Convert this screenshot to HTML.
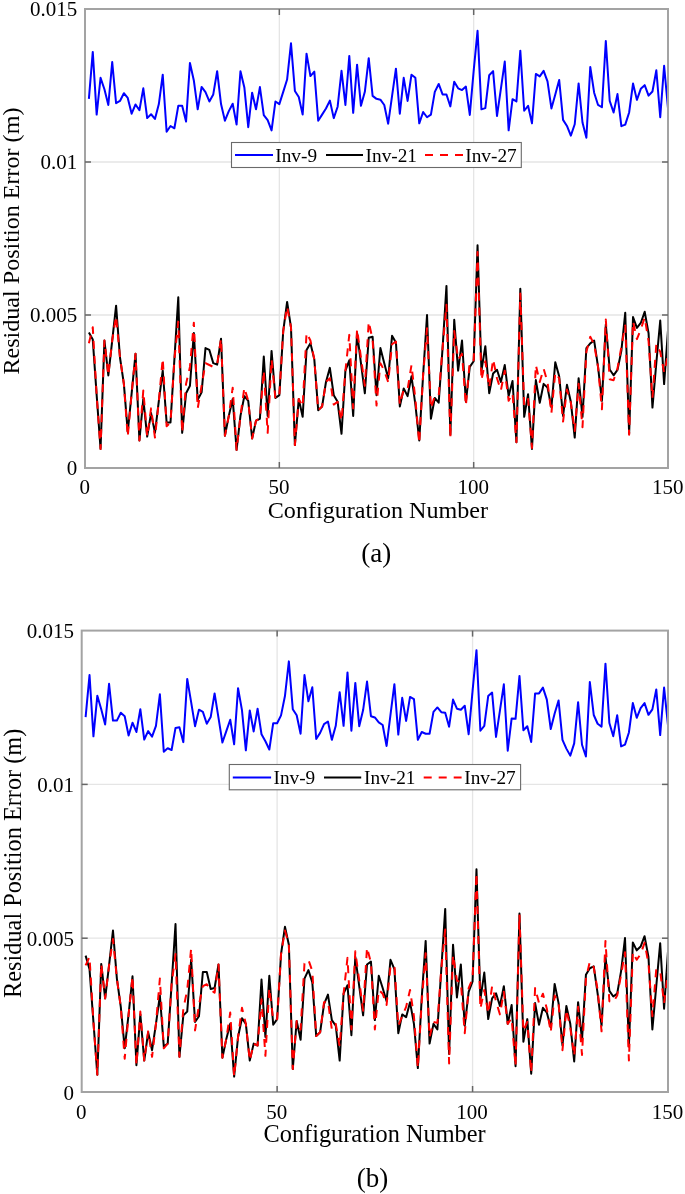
<!DOCTYPE html>
<html><head><meta charset="utf-8"><style>
html,body{margin:0;padding:0;background:#fff;}
svg{display:block;}
</style></head><body>
<svg width="685" height="1194" viewBox="0 0 685 1194">
<defs><filter id="bl" x="0" y="0" width="100%" height="100%"><feGaussianBlur stdDeviation="0.4"/></filter></defs>
<rect width="685" height="1194" fill="#fff"/>
<g filter="url(#bl)">
<line x1="279.33" y1="9.0" x2="279.33" y2="468.0" stroke="#e5e5e5" stroke-width="1.3"/>
<line x1="473.67" y1="9.0" x2="473.67" y2="468.0" stroke="#e5e5e5" stroke-width="1.3"/>
<line x1="85.0" y1="315.00" x2="668.0" y2="315.00" stroke="#e5e5e5" stroke-width="1.3"/>
<line x1="85.0" y1="162.00" x2="668.0" y2="162.00" stroke="#e5e5e5" stroke-width="1.3"/>
<polyline points="88.89,98.84 92.77,51.89 96.66,114.60 100.55,77.81 104.43,89.20 108.32,104.97 112.21,62.05 116.09,103.22 119.98,100.94 123.87,93.23 127.75,97.96 131.64,113.73 135.53,104.44 139.41,110.22 143.30,88.33 147.19,118.11 151.07,114.25 154.96,118.98 158.85,104.09 162.73,74.66 166.62,131.77 170.51,125.99 174.39,128.27 178.28,105.84 182.17,105.84 186.05,121.61 189.94,62.92 193.83,80.44 197.71,109.35 201.60,86.92 205.49,92.18 209.37,101.46 213.26,94.46 217.15,71.16 221.03,104.09 224.92,120.74 228.81,111.10 232.69,103.74 236.58,124.59 240.47,71.16 244.35,87.45 248.24,127.22 252.13,92.70 256.01,109.35 259.90,87.10 263.79,115.13 267.67,120.21 271.56,130.37 275.45,101.46 279.33,104.09 283.22,91.83 287.11,79.57 290.99,43.30 294.88,90.95 298.77,97.08 302.65,114.60 306.54,53.64 310.43,76.06 314.31,71.68 318.20,120.74 322.09,114.60 325.97,108.47 329.86,100.59 333.75,118.11 337.63,106.72 341.52,70.81 345.41,104.97 349.29,55.91 353.18,112.85 357.07,64.67 360.95,105.84 364.84,91.83 368.73,58.19 372.61,95.86 376.50,98.84 380.39,99.71 384.27,104.97 388.16,123.71 392.05,96.21 395.93,68.70 399.82,113.73 403.71,77.81 407.59,100.94 411.48,74.66 415.37,77.81 419.25,123.36 423.14,111.98 427.03,117.23 430.91,114.60 434.80,91.83 438.69,83.95 442.57,94.46 446.46,94.46 450.35,106.37 454.23,81.67 458.12,88.33 462.01,90.08 465.89,86.57 469.78,114.95 473.67,70.81 477.55,30.86 481.44,109.35 485.33,108.12 489.21,75.19 493.10,71.16 496.99,116.01 500.87,88.85 504.76,61.52 508.65,130.37 512.53,99.19 516.42,101.46 520.31,50.66 524.19,110.75 528.08,105.84 531.97,123.36 535.85,73.96 539.74,76.41 543.63,70.81 547.51,81.32 551.40,108.47 555.29,94.46 559.17,79.92 563.06,119.86 566.95,125.99 570.83,135.63 574.72,124.24 578.61,83.42 582.49,122.49 586.38,137.73 590.27,66.95 594.15,92.70 598.04,104.97 601.93,107.25 605.81,41.02 609.70,100.93 613.59,112.50 617.47,94.10 621.36,126.16 625.25,124.58 629.13,112.50 633.02,83.59 636.91,99.88 640.79,88.85 644.68,85.17 648.57,95.68 652.45,91.47 656.34,70.24 660.23,117.23 664.11,65.72 668.00,108.29" fill="none" stroke="#0000ff" stroke-width="2" stroke-linejoin="round"/>
<polyline points="88.89,332.61 92.77,339.58 96.66,395.17 100.55,448.88 104.43,340.53 108.32,375.39 112.21,340.53 116.09,305.67 119.98,357.49 123.87,383.87 127.75,431.92 131.64,393.29 135.53,353.72 139.41,440.40 143.30,398.94 147.19,436.63 151.07,413.08 154.96,432.86 158.85,400.83 162.73,370.68 166.62,422.50 170.51,422.50 174.39,359.37 178.28,297.19 182.17,432.86 186.05,393.29 189.94,385.75 193.83,332.99 197.71,399.89 201.60,392.35 205.49,348.06 209.37,349.95 213.26,363.14 217.15,364.65 221.03,338.64 224.92,435.69 228.81,415.90 232.69,398.94 236.58,449.82 240.47,415.90 244.35,396.12 248.24,400.83 252.13,438.52 256.01,420.61 259.90,418.73 263.79,356.54 267.67,415.90 271.56,350.89 275.45,398.00 279.33,395.17 283.22,331.10 287.11,301.90 290.99,327.34 294.88,445.11 298.77,398.94 302.65,416.85 306.54,349.95 310.43,343.35 314.31,359.37 318.20,410.25 322.09,406.48 325.97,381.98 329.86,367.85 333.75,395.17 337.63,401.77 341.52,433.81 345.41,370.68 349.29,360.31 353.18,415.90 357.07,332.99 360.95,363.14 364.84,393.29 368.73,337.70 372.61,336.76 376.50,395.17 380.39,348.06 384.27,363.14 388.16,378.22 392.05,335.82 395.93,342.41 399.82,406.48 403.71,388.58 407.59,396.12 411.48,376.33 415.37,404.60 419.25,440.40 423.14,374.45 427.03,315.09 430.91,418.73 434.80,398.00 438.69,402.71 442.57,348.06 446.46,285.88 450.35,434.75 454.23,319.80 458.12,370.68 462.01,340.53 465.89,401.77 469.78,366.91 473.67,361.26 477.55,245.36 481.44,370.68 485.33,346.18 489.21,393.29 493.10,373.50 496.99,369.74 500.87,381.98 504.76,365.02 508.65,396.12 512.53,381.04 516.42,442.29 520.31,288.71 524.19,416.85 528.08,394.23 531.97,448.88 535.85,380.10 539.74,402.71 543.63,383.87 547.51,387.64 551.40,407.42 555.29,362.20 559.17,376.33 563.06,415.90 566.95,384.81 570.83,401.77 574.72,437.57 578.61,378.22 582.49,416.85 586.38,348.06 590.27,343.35 594.15,340.53 598.04,366.91 601.93,400.83 605.81,324.45 609.70,369.44 613.59,375.31 617.47,369.93 621.36,350.86 625.25,312.72 629.13,433.81 633.02,317.12 636.91,327.88 640.79,322.99 644.68,311.74 648.57,333.26 652.45,407.59 656.34,362.60 660.23,320.54 664.11,384.12 668.00,330.32" fill="none" stroke="#000" stroke-width="2" stroke-linejoin="round"/>
<polyline points="88.89,343.35 92.77,327.34 96.66,395.17 100.55,448.88 104.43,340.53 108.32,375.39 112.21,340.53 116.09,316.03 119.98,357.49 123.87,383.87 127.75,436.63 131.64,393.29 135.53,353.72 139.41,440.40 143.30,390.46 147.19,436.63 151.07,408.37 154.96,437.57 158.85,400.83 162.73,358.43 166.62,426.27 170.51,422.50 174.39,359.37 178.28,321.68 182.17,432.86 186.05,383.87 189.94,366.91 193.83,322.63 197.71,408.37 201.60,385.75 205.49,363.14 209.37,365.02 213.26,366.91 217.15,364.65 221.03,338.64 224.92,435.69 228.81,415.90 232.69,387.64 236.58,449.82 240.47,415.90 244.35,387.64 248.24,400.83 252.13,438.52 256.01,420.61 259.90,418.73 263.79,370.68 267.67,432.86 271.56,359.37 275.45,398.94 279.33,395.17 283.22,331.10 287.11,306.61 290.99,327.34 294.88,445.11 298.77,398.94 302.65,406.48 306.54,332.99 310.43,340.53 314.31,359.37 318.20,410.25 322.09,406.48 325.97,381.98 329.86,378.22 333.75,404.60 337.63,401.77 341.52,420.61 345.41,370.68 349.29,334.87 353.18,408.37 357.07,329.22 360.95,357.49 364.84,385.75 368.73,321.68 372.61,339.58 376.50,405.54 380.39,363.14 384.27,370.68 388.16,381.98 392.05,344.30 395.93,341.47 399.82,404.60 403.71,389.52 407.59,389.52 411.48,365.02 415.37,398.94 419.25,443.23 423.14,374.45 427.03,328.28 430.91,408.37 434.80,396.12 438.69,396.12 442.57,348.06 446.46,304.72 450.35,437.57 454.23,331.10 458.12,359.37 462.01,353.72 465.89,405.54 469.78,361.26 473.67,360.31 477.55,251.96 481.44,380.10 485.33,361.26 489.21,387.64 493.10,359.37 496.99,378.22 500.87,390.46 504.76,370.68 508.65,400.83 512.53,393.29 516.42,442.29 520.31,293.42 524.19,405.54 528.08,398.94 531.97,447.94 535.85,365.02 539.74,381.98 543.63,368.79 547.51,381.98 551.40,413.08 555.29,372.56 559.17,378.22 563.06,421.56 566.95,389.52 570.83,402.71 574.72,430.98 578.61,383.87 582.49,427.21 586.38,351.83 590.27,336.76 594.15,344.30 598.04,366.91 601.93,409.31 605.81,319.56 609.70,379.23 613.59,380.20 617.47,368.47 621.36,346.95 625.25,325.43 629.13,434.75 633.02,321.52 636.91,339.12 640.79,329.34 644.68,317.61 648.57,341.08 652.45,397.81 656.34,344.01 660.23,351.84 664.11,372.38 668.00,354.77" fill="none" stroke="#ff0000" stroke-width="2" stroke-dasharray="8 7" stroke-linejoin="round"/>
<rect x="85.0" y="9.0" width="583.00" height="459.00" fill="none" stroke="#a3a3a3" stroke-width="2"/>
<line x1="279.33" y1="468.0" x2="279.33" y2="462.0" stroke="#666" stroke-width="1.5"/>
<line x1="279.33" y1="9.0" x2="279.33" y2="15.0" stroke="#666" stroke-width="1.5"/>
<line x1="473.67" y1="468.0" x2="473.67" y2="462.0" stroke="#666" stroke-width="1.5"/>
<line x1="473.67" y1="9.0" x2="473.67" y2="15.0" stroke="#666" stroke-width="1.5"/>
<line x1="85.0" y1="315.00" x2="91.0" y2="315.00" stroke="#666" stroke-width="1.5"/>
<line x1="668.0" y1="315.00" x2="662.0" y2="315.00" stroke="#666" stroke-width="1.5"/>
<line x1="85.0" y1="162.00" x2="91.0" y2="162.00" stroke="#666" stroke-width="1.5"/>
<line x1="668.0" y1="162.00" x2="662.0" y2="162.00" stroke="#666" stroke-width="1.5"/>
<text x="77.2" y="16.30" font-family="Liberation Serif" font-size="21" text-anchor="end">0.015</text>
<text x="77.2" y="169.30" font-family="Liberation Serif" font-size="21" text-anchor="end">0.01</text>
<text x="77.2" y="322.30" font-family="Liberation Serif" font-size="21" text-anchor="end">0.005</text>
<text x="77.2" y="475.30" font-family="Liberation Serif" font-size="21" text-anchor="end">0</text>
<text x="84.70" y="494.3" font-family="Liberation Serif" font-size="21" text-anchor="middle">0</text>
<text x="279.03" y="494.3" font-family="Liberation Serif" font-size="21" text-anchor="middle">50</text>
<text x="473.37" y="494.3" font-family="Liberation Serif" font-size="21" text-anchor="middle">100</text>
<text x="667.70" y="494.3" font-family="Liberation Serif" font-size="21" text-anchor="middle">150</text>
<text x="267.8" y="517.9" font-family="Liberation Serif" font-size="24.1">Configuration Number</text>
<text transform="translate(18.7,374.6) rotate(-90)" font-family="Liberation Serif" font-size="24.1">Residual Position Error (m)</text>
<text x="361.3" y="562.2" font-family="Liberation Serif" font-size="27">(a)</text>
<rect x="231.5" y="142.5" width="289.80" height="25.00" fill="#fff" stroke="#6a6a6a" stroke-width="1.1"/>
<line x1="235" y1="155" x2="273" y2="155" stroke="#0000ff" stroke-width="2"/>
<line x1="326" y1="155" x2="363" y2="155" stroke="#000" stroke-width="2"/>
<line x1="425" y1="155" x2="463" y2="155" stroke="#ff0000" stroke-width="2" stroke-dasharray="8 7"/>
<text x="275.3" y="161.6" font-family="Liberation Serif" font-size="19.3">Inv-9</text>
<text x="365.6" y="161.6" font-family="Liberation Serif" font-size="19.3">Inv-21</text>
<text x="465.3" y="161.6" font-family="Liberation Serif" font-size="19.3">Inv-27</text>
<line x1="277.13" y1="630.6" x2="277.13" y2="1092.0" stroke="#e5e5e5" stroke-width="1.3"/>
<line x1="472.57" y1="630.6" x2="472.57" y2="1092.0" stroke="#e5e5e5" stroke-width="1.3"/>
<line x1="81.7" y1="938.20" x2="668.0" y2="938.20" stroke="#e5e5e5" stroke-width="1.3"/>
<line x1="81.7" y1="784.40" x2="668.0" y2="784.40" stroke="#e5e5e5" stroke-width="1.3"/>
<polyline points="85.61,717.08 89.52,675.04 93.43,736.36 97.33,695.71 101.24,709.20 105.15,724.44 109.06,683.80 112.97,720.59 116.88,720.59 120.79,712.70 124.70,716.21 128.60,735.48 132.51,722.69 136.42,731.98 140.33,709.20 144.24,739.51 148.15,731.10 152.06,736.71 155.96,725.84 159.87,694.31 163.78,751.77 167.69,748.27 171.60,750.02 175.51,727.95 179.42,727.25 183.33,742.14 187.23,678.89 191.14,702.19 195.05,726.19 198.96,709.73 202.87,711.83 206.78,723.74 210.69,717.08 214.59,693.43 218.50,717.96 222.41,742.49 226.32,731.10 230.23,719.71 234.14,744.24 238.05,688.18 241.96,710.08 245.86,750.37 249.77,710.43 253.68,731.45 257.59,708.68 261.50,734.25 265.41,741.26 269.32,749.50 273.22,723.22 277.13,723.22 281.04,715.33 284.95,696.06 288.86,661.37 292.77,709.20 296.68,715.33 300.59,733.73 304.49,675.04 308.40,701.32 312.31,687.30 316.22,738.98 320.13,732.85 324.04,724.09 327.95,721.46 331.85,739.86 335.76,725.84 339.67,692.21 343.58,725.84 347.49,672.41 351.40,730.75 355.31,682.92 359.22,726.19 363.12,710.08 367.03,681.52 370.94,716.21 374.85,717.44 378.76,722.34 382.67,724.97 386.58,745.99 390.48,714.98 394.39,684.15 398.30,734.60 402.21,697.81 406.12,720.94 410.03,696.94 413.94,699.22 417.85,739.86 421.75,731.98 425.66,733.73 429.57,733.73 433.48,711.83 437.39,707.45 441.30,712.18 445.21,712.70 449.11,726.72 453.02,699.57 456.93,708.68 460.84,709.73 464.75,705.70 468.66,734.25 472.57,690.81 476.48,650.16 480.38,730.75 484.29,725.84 488.20,696.06 492.11,692.56 496.02,736.88 499.93,710.60 503.84,684.32 507.74,750.72 511.65,718.49 515.56,718.84 519.47,675.91 523.38,730.22 527.29,726.19 531.20,741.96 535.11,693.43 539.01,693.43 542.92,687.65 546.83,699.57 550.74,729.00 554.65,713.58 558.56,700.44 562.47,739.86 566.37,748.62 570.28,755.63 574.19,743.36 578.10,702.19 582.01,744.77 585.92,756.50 589.83,682.05 593.74,714.98 597.64,723.74 601.55,726.71 605.46,663.65 609.37,723.04 613.28,736.17 617.19,715.15 621.10,746.37 625.00,744.58 628.91,732.50 632.82,703.06 636.73,717.78 640.64,708.11 644.55,703.06 648.46,714.84 652.37,709.37 656.27,689.40 660.18,735.12 664.09,687.51 668.00,725.35" fill="none" stroke="#0000ff" stroke-width="2" stroke-linejoin="round"/>
<polyline points="85.61,955.61 89.52,969.18 93.43,1021.94 97.33,1074.71 101.24,963.90 105.15,998.39 109.06,965.41 112.97,930.55 116.88,978.60 120.79,1006.87 124.70,1048.33 128.60,1014.41 132.51,976.34 136.42,1065.29 140.33,1014.41 144.24,1060.57 148.15,1032.31 152.06,1050.21 155.96,1023.83 159.87,995.56 163.78,1046.44 167.69,1043.61 171.60,984.26 175.51,923.95 179.42,1056.81 183.33,1015.35 187.23,1011.58 191.14,959.76 195.05,1021.94 198.96,1016.29 202.87,972.01 206.78,972.01 210.69,988.97 214.59,988.02 218.50,964.47 222.41,1057.75 226.32,1038.90 230.23,1023.83 234.14,1076.59 238.05,1037.02 241.96,1018.17 245.86,1023.83 249.77,1060.57 253.68,1043.61 257.59,1045.50 261.50,979.54 265.41,1037.02 269.32,975.78 273.22,1024.77 277.13,1019.12 281.04,954.10 284.95,926.78 288.86,944.68 292.77,1069.05 296.68,1021.00 300.59,1039.85 304.49,978.60 308.40,970.12 312.31,982.37 316.22,1036.08 320.13,1032.31 324.04,1004.04 327.95,994.62 331.85,1020.06 335.76,1025.71 339.67,1060.57 343.58,993.68 347.49,985.20 351.40,1035.13 355.31,956.93 359.22,986.14 363.12,1015.35 367.03,964.47 370.94,961.64 374.85,1020.06 378.76,975.78 382.67,988.02 386.58,1001.22 390.48,959.76 394.39,969.18 398.30,1033.25 402.21,1014.41 406.12,1017.23 410.03,1002.16 413.94,1023.83 417.85,1068.11 421.75,997.45 425.66,940.91 429.57,1043.61 433.48,1023.83 437.39,1029.48 441.30,969.18 445.21,908.88 449.11,1053.98 453.02,944.68 456.93,997.45 460.84,964.47 464.75,1025.71 468.66,991.79 472.57,981.43 476.48,869.31 480.38,999.33 484.29,972.57 488.20,1019.12 492.11,998.39 496.02,993.30 499.93,1005.93 503.84,986.14 507.74,1023.83 511.65,1004.98 515.56,1066.23 519.47,913.59 523.38,1041.73 527.29,1019.12 531.20,1073.76 535.11,1003.10 539.01,1024.77 542.92,1007.81 546.83,1012.52 550.74,1027.60 554.65,983.88 558.56,1003.10 562.47,1045.50 566.37,1005.93 570.28,1023.83 574.19,1061.52 578.10,1002.16 582.01,1039.85 585.92,974.83 589.83,968.24 593.74,966.35 597.64,993.68 601.55,1025.71 605.46,956.93 609.37,990.85 613.28,996.50 617.19,993.68 621.10,971.06 625.00,938.09 628.91,1046.44 632.82,942.42 636.73,950.34 640.64,946.57 644.55,936.20 648.46,956.93 652.37,1029.48 656.27,986.14 660.18,943.18 664.09,1008.75 668.00,951.28" fill="none" stroke="#000" stroke-width="2" stroke-linejoin="round"/>
<polyline points="85.61,965.41 89.52,956.93 93.43,1021.94 97.33,1074.71 101.24,963.90 105.15,998.39 109.06,965.41 112.97,939.03 116.88,978.60 120.79,1006.87 124.70,1058.69 128.60,1014.41 132.51,976.34 136.42,1065.29 140.33,1011.58 144.24,1060.57 148.15,1031.37 152.06,1056.81 155.96,1023.83 159.87,978.60 163.78,1048.33 167.69,1043.61 171.60,984.26 175.51,954.10 179.42,1056.81 183.33,1008.75 187.23,989.91 191.14,948.45 195.05,1030.42 198.96,1004.98 202.87,986.14 206.78,984.26 210.69,989.91 214.59,992.74 218.50,964.47 222.41,1057.75 226.32,1038.90 230.23,1012.52 234.14,1076.59 238.05,1037.02 241.96,1007.81 245.86,1023.83 249.77,1060.57 253.68,1043.61 257.59,1045.50 261.50,999.33 265.41,1055.86 269.32,988.02 273.22,1020.06 277.13,1019.12 281.04,954.10 284.95,930.55 288.86,944.68 292.77,1069.05 296.68,1021.00 300.59,1029.48 304.49,963.53 308.40,959.76 312.31,971.06 316.22,1036.08 320.13,1032.31 324.04,1002.16 327.95,1001.22 331.85,1029.48 335.76,1023.83 339.67,1046.44 343.58,993.68 347.49,957.87 351.40,1029.48 355.31,951.28 359.22,980.49 363.12,1010.64 367.03,947.51 370.94,962.58 374.85,1029.48 378.76,989.91 382.67,993.68 386.58,1004.98 390.48,966.35 394.39,965.41 398.30,1025.71 402.21,1016.29 406.12,1006.87 410.03,989.91 413.94,1016.29 417.85,1068.11 421.75,1001.22 425.66,953.16 429.57,1037.02 433.48,1021.94 437.39,1022.89 441.30,969.18 445.21,929.61 449.11,1063.40 453.02,955.05 456.93,980.49 460.84,982.37 464.75,1033.25 468.66,988.02 472.57,978.60 476.48,873.08 480.38,1008.75 484.29,989.91 488.20,1013.46 492.11,986.14 496.02,1001.22 499.93,1014.41 503.84,991.79 507.74,1023.83 511.65,1018.17 515.56,1066.23 519.47,914.53 523.38,1031.37 527.29,1021.94 531.20,1072.82 535.11,988.02 539.01,1003.10 542.92,993.68 546.83,1008.75 550.74,1032.31 554.65,995.56 558.56,1003.10 562.47,1050.21 566.37,1009.70 570.28,1027.60 574.19,1055.86 578.10,1006.87 582.01,1054.92 585.92,978.60 589.83,961.64 593.74,967.30 597.64,989.91 601.55,1031.37 605.46,940.91 609.37,1001.22 613.28,1002.16 617.19,995.56 621.10,974.83 625.00,952.22 628.91,1060.57 632.82,952.22 636.73,959.76 640.64,954.10 644.55,942.80 648.46,963.53 652.37,1016.29 656.27,969.18 660.18,971.06 664.09,1003.10 668.00,971.06" fill="none" stroke="#ff0000" stroke-width="2" stroke-dasharray="8 7" stroke-linejoin="round"/>
<rect x="81.7" y="630.6" width="586.30" height="461.40" fill="none" stroke="#a3a3a3" stroke-width="2"/>
<line x1="277.13" y1="1092.0" x2="277.13" y2="1086.0" stroke="#666" stroke-width="1.5"/>
<line x1="277.13" y1="630.6" x2="277.13" y2="636.6" stroke="#666" stroke-width="1.5"/>
<line x1="472.57" y1="1092.0" x2="472.57" y2="1086.0" stroke="#666" stroke-width="1.5"/>
<line x1="472.57" y1="630.6" x2="472.57" y2="636.6" stroke="#666" stroke-width="1.5"/>
<line x1="81.7" y1="938.20" x2="87.7" y2="938.20" stroke="#666" stroke-width="1.5"/>
<line x1="668.0" y1="938.20" x2="662.0" y2="938.20" stroke="#666" stroke-width="1.5"/>
<line x1="81.7" y1="784.40" x2="87.7" y2="784.40" stroke="#666" stroke-width="1.5"/>
<line x1="668.0" y1="784.40" x2="662.0" y2="784.40" stroke="#666" stroke-width="1.5"/>
<text x="73.9" y="638.10" font-family="Liberation Serif" font-size="21" text-anchor="end">0.015</text>
<text x="73.9" y="791.90" font-family="Liberation Serif" font-size="21" text-anchor="end">0.01</text>
<text x="73.9" y="945.70" font-family="Liberation Serif" font-size="21" text-anchor="end">0.005</text>
<text x="73.9" y="1099.50" font-family="Liberation Serif" font-size="21" text-anchor="end">0</text>
<text x="81.20" y="1118.5" font-family="Liberation Serif" font-size="21" text-anchor="middle">0</text>
<text x="276.63" y="1118.5" font-family="Liberation Serif" font-size="21" text-anchor="middle">50</text>
<text x="472.07" y="1118.5" font-family="Liberation Serif" font-size="21" text-anchor="middle">100</text>
<text x="667.50" y="1118.5" font-family="Liberation Serif" font-size="21" text-anchor="middle">150</text>
<text x="263.6" y="1142.4" font-family="Liberation Serif" font-size="24.3">Configuration Number</text>
<text transform="translate(20.7,997.9) rotate(-90)" font-family="Liberation Serif" font-size="24.3">Residual Position Error (m)</text>
<text x="356.7" y="1187.2" font-family="Liberation Serif" font-size="27">(b)</text>
<rect x="229.3" y="764.5" width="291.30" height="25.30" fill="#fff" stroke="#6a6a6a" stroke-width="1.1"/>
<line x1="232.8" y1="777.5" x2="271.1" y2="777.5" stroke="#0000ff" stroke-width="2"/>
<line x1="324" y1="777.5" x2="361.2" y2="777.5" stroke="#000" stroke-width="2"/>
<line x1="423.7" y1="777.5" x2="461.6" y2="777.5" stroke="#ff0000" stroke-width="2" stroke-dasharray="8 7"/>
<text x="273.5" y="784.4" font-family="Liberation Serif" font-size="19.3">Inv-9</text>
<text x="364.1" y="784.4" font-family="Liberation Serif" font-size="19.3">Inv-21</text>
<text x="464.3" y="784.4" font-family="Liberation Serif" font-size="19.3">Inv-27</text>
</g>
</svg>
</body></html>
